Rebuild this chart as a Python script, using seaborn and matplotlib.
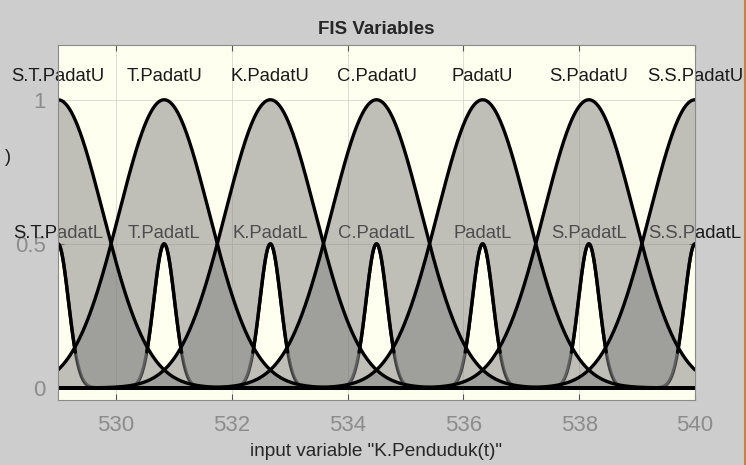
import numpy as np
import pandas as pd
import matplotlib
matplotlib.use("Agg")
import matplotlib.pyplot as plt
from matplotlib.lines import Line2D
import seaborn as sns

# Interval type-2 Gaussian membership functions of input "K.Penduduk(t)"
x_range = [529.0, 540.0]
centers = [529.0, 530.833, 532.667, 534.5, 536.333, 538.167, 540.0]
upper_names = ["S.T.PadatU", "T.PadatU", "K.PadatU", "C.PadatU",
               "PadatU", "S.PadatU", "S.S.PadatU"]
lower_names = ["S.T.PadatL", "T.PadatL", "K.PadatL", "C.PadatL",
               "PadatL", "S.PadatL", "S.S.PadatL"]
upper_sigma = 0.7785
upper_peak = 1.0
lower_sigma = 0.18
lower_peak = 0.5
x_ticks = [530, 532, 534, 536, 538, 540]
y_ticks = [0, 0.5, 1]
y_ticklabels = ["0", "0.5", "1"]

sns.set_style("ticks")
plt.rcParams["font.family"] = ["Liberation Sans", "DejaVu Sans"]

W, H = 746, 465
fig = plt.figure(figsize=(W / 100, H / 100), dpi=100, facecolor="#cdcdcd")
ax = fig.add_axes([58 / W, 1 - 400 / H, (695 - 58) / W, (400 - 45) / H])
ax.set_facecolor("#fffff0")

xs = np.linspace(x_range[0], x_range[1], 1501)


def gauss(x, c, s, peak):
    return peak * np.exp(-((x - c) ** 2) / (2 * s ** 2))


upper_rows, lower_rows = [], []
umfs, lmfs = [], []
for c, un, ln in zip(centers, upper_names, lower_names):
    u = gauss(xs, c, upper_sigma, upper_peak)
    l = gauss(xs, c, lower_sigma, lower_peak)
    umfs.append(u)
    lmfs.append(l)
    upper_rows.append(pd.DataFrame({"x": xs, "mu": u, "mf": un}))
    lower_rows.append(pd.DataFrame({"x": xs, "mu": l, "mf": ln}))
df_upper = pd.concat(upper_rows, ignore_index=True)
df_lower = pd.concat(lower_rows, ignore_index=True)

# lower MFs sit beneath the translucent footprint patches
sns.lineplot(data=df_lower, x="x", y="mu", units="mf", estimator=None,
             sort=False, color="black", lw=2.4, ax=ax, zorder=2, legend=False)

# footprint of uncertainty between lower and upper MF
for u, l in zip(umfs, lmfs):
    ax.fill_between(xs, l, u, color=(0.5, 0.5, 0.5), alpha=0.5, lw=0, zorder=3)

# spike tops of the lower MFs and the upper MFs drawn on top
sns.lineplot(data=df_lower[df_lower["mu"] > 0.12], x="x", y="mu", units="mf",
             estimator=None, sort=False, color="black", lw=2.4, ax=ax,
             zorder=4, legend=False)
sns.lineplot(data=df_upper, x="x", y="mu", units="mf", estimator=None,
             sort=False, color="black", lw=2.4, ax=ax, zorder=4, legend=False)

# labels
for c, un, ln in zip(centers, upper_names, lower_names):
    ax.text(c, 1.08, un, ha="center", va="center", fontsize=13.3,
            color="#1a1a1a", zorder=5, clip_on=False)
    ax.text(c, 0.535, ln, ha="center", va="center", fontsize=13.3,
            color="#1a1a1a", zorder=1, clip_on=False)

ax.set_xlim(*x_range)
ax.set_ylim(-0.042, 1.19)
ax.set_xticks(x_ticks)
ax.set_xticklabels([str(t) for t in x_ticks])
ax.set_yticks(y_ticks)
ax.set_yticklabels(y_ticklabels)
ax.tick_params(axis="both", direction="in", length=4, width=0.8,
               color="#555555", labelcolor="#8c8c8c", labelsize=16,
               top=True, right=True)
ax.tick_params(axis="y", pad=9)
ax.tick_params(axis="x", pad=11)
ax.grid(True, color="#dcdcd2", lw=0.7)
ax.set_axisbelow(True)
for sp in ax.spines.values():
    sp.set_color("#8a8a8a")
    sp.set_linewidth(0.8)
    sp.set_zorder(6)

ax.set_xlabel('input variable "K.Penduduk(t)"', fontsize=13.7,
              color="#262626", labelpad=5)
ax.set_ylabel("")

fig.text(376 / W, 1 - 29 / H, "FIS Variables", ha="center", va="center",
         fontsize=13.5, fontweight="bold", color="#262626")
fig.text(8 / W, 1 - 157 / H, ")", ha="center", va="center",
         fontsize=13, color="#1a1a1a")
fig.add_artist(Line2D([0.9985, 0.9985], [0, 1], transform=fig.transFigure,
                      color="#c8804a", lw=1.5))

fig.savefig("out.png", dpi=100, facecolor=fig.get_facecolor())
